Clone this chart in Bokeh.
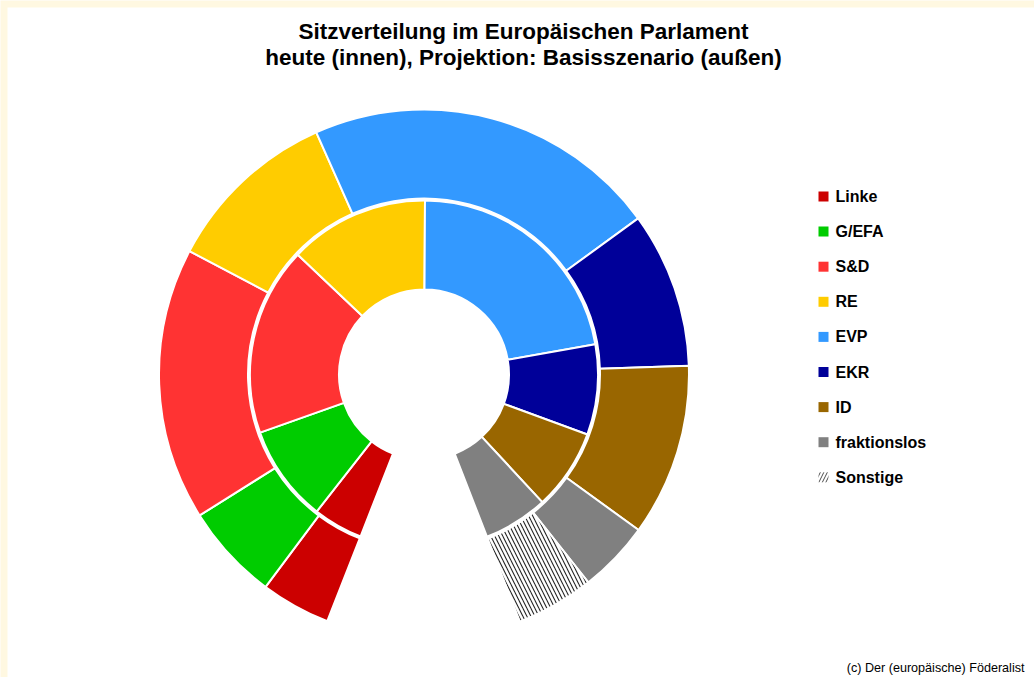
import numpy as np
from bokeh.plotting import figure
from bokeh.models import Range1d, ColumnDataSource
from bokeh.core.properties import value
from bokeh.embed import file_html
from bokeh.resources import INLINE

# ---------------- data ----------------
parties = ["Linke", "G/EFA", "S&D", "RE", "EVP", "EKR", "ID", "fraktionslos", "Sonstige"]
colors = ["#CC0000", "#00CC00", "#FF3333", "#FFCC00", "#3399FF", "#000099", "#996600", "#808080", "#FFFFFF"]
seats_today = [37, 72, 140, 104, 177, 67, 60, 48, 0]        # inner ring
seats_projection = [34, 47, 133, 85, 173, 76, 84, 35, 38]   # outer ring
title_lines = ["Sitzverteilung im Europäischen Parlament",
               "heute (innen), Projektion: Basisszenario (außen)"]
credit = "(c) Der (europäische) Föderalist"

# ---------------- layout ----------------
W, H = 1034, 677
CX, CY = 423.5, H - 374
START_DEG = 248.6      # start of the rings (clockwise from here)
SPAN_DEG = 317.4       # angular extent of each ring
R_HOLE, R_IN_OUT = 85, 174
R_OUT_IN, R_OUT_OUT = 176, 265
FONT = "Liberation Sans"


def ring(vals):
    v = np.array(vals, dtype=float)
    tot = v.sum()
    cum = np.concatenate([[0], np.cumsum(v)])
    a_hi = np.radians(START_DEG - cum[:-1] / tot * SPAN_DEG)
    a_lo = np.radians(START_DEG - cum[1:] / tot * SPAN_DEG)
    keep = v > 0
    return {
        "start": list(a_lo[keep]), "end": list(a_hi[keep]),
        "color": [c for c, k in zip(colors, keep) if k],
        "hatch": ["\\" if p == "Sonstige" else " " for p, k in zip(parties, keep) if k],
        "x": [CX] * int(keep.sum()), "y": [CY] * int(keep.sum()),
    }


p = figure(width=W, height=H, x_range=Range1d(0, W), y_range=Range1d(0, H),
           output_backend="svg", toolbar_location=None, min_border=0,
           x_axis_type=None, y_axis_type=None)
p.grid.visible = False
p.outline_line_color = None
p.background_fill_color = "#FFF8E1"
p.border_fill_color = "#FFF8E1"

# white page area
p.quad(left=[7], right=[W], bottom=[0], top=[H - 7], fill_color="white", line_color=None)

for vals, ri, ro in [(seats_today, R_HOLE, R_IN_OUT), (seats_projection, R_OUT_IN, R_OUT_OUT)]:
    src = ColumnDataSource(ring(vals))
    p.annular_wedge(x="x", y="y", inner_radius=ri, outer_radius=ro,
                    start_angle="start", end_angle="end", direction="anticlock",
                    fill_color="color", line_color="white", line_width=2,
                    hatch_pattern="hatch", hatch_color="black", hatch_scale=8,
                    hatch_weight=1.1, hatch_alpha=0.85, source=src)

# title
p.text(x=[523, 523], y=[H - 31, H - 57], text=title_lines, text_align="center",
       text_baseline="middle", text_font=value(FONT), text_font_style="bold",
       text_font_size="22.5px", text_color="black")

# legend
LX, LY0, LDY = 823, H - 196, 35.1
ly = [LY0 - i * LDY for i in range(len(parties))]
solid = [i for i, n in enumerate(parties) if n != "Sonstige"]
p.rect(x=[LX] * len(solid), y=[ly[i] for i in solid], width=10, height=10,
       fill_color=[colors[i] for i in solid], line_color=None)
hi = parties.index("Sonstige")
p.rect(x=[LX], y=[ly[hi]], width=10, height=10, fill_color="white", line_color=None,
       hatch_pattern="/", hatch_color="black", hatch_scale=7, hatch_weight=1, hatch_alpha=0.7)
p.text(x=[LX + 12] * len(parties), y=ly, text=parties, text_align="left",
       text_baseline="middle", text_font=value(FONT), text_font_style="bold",
       text_font_size="16px", text_color="black")

# credit
p.text(x=[1024], y=[H - 667], text=[credit], text_align="right", text_baseline="middle",
       text_font=value(FONT), text_font_size="12.6px", text_color="black")

open("out.html", "w").write(file_html(p, INLINE))
